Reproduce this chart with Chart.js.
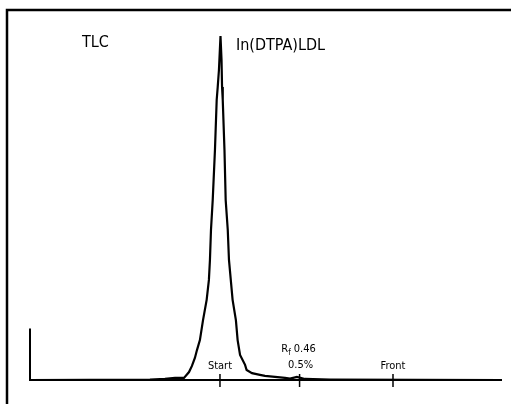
<!DOCTYPE html>
<html><head><meta charset="utf-8">
<script src="https://cdn.jsdelivr.net/npm/chart.js@4/dist/chart.umd.min.js"></script>
<style>html,body{margin:0;padding:0;background:#fff;}canvas{display:block;}</style>
</head><body>
<canvas id="c" width="511" height="404"></canvas>
<script>
// Migration distance (Start = 0, Front = 1) and relative counts (peak = 100)
const rfPos = [-1.098,-0.405,-0.318,-0.26,-0.208,-0.179,-0.162,-0.145,-0.133,-0.116,-0.098,-0.077,-0.064,-0.058,-0.052,-0.042,-0.029,-0.019,-0.013,-0.006,0.003,0.009,0.012,0.016,0.026,0.033,0.045,0.052,0.073,0.092,0.102,0.116,0.145,0.154,0.185,0.231,0.26,0.318,0.376,0.405,0.445,0.491,0.636,1.63];
const counts = [0,0.15,0.3,0.6,0.6,2.3,4.1,6.4,8.7,11.6,17.4,23.3,29.1,34.9,43.6,52.3,66.9,81.4,85.2,90.1,100,93.0,85.2,81.4,66.9,52.3,43.6,34.9,23.3,17.4,11.6,7.3,4.4,2.9,2.0,1.5,1.2,0.9,0.6,0.4,0.9,0.3,0.15,0];
const markerPos = [0, 0.46, 1];
const markerLabels = ['Start', 'Rf 0.46', 'Front'];
const markerSub = ['', '0.5%', ''];
const xRange = [-1.098, 1.63];
const yRange = [0, 100];
const yAxisTop = 15;
const titleLeft = 'TLC';
const titleRight = 'In(DTPA)LDL';

const FONT = '"DejaVu Sans Condensed","Liberation Sans Narrow","DejaVu Sans",sans-serif';

const decor = {
  id: 'decor',
  afterDraw(chart) {
    const ctx = chart.ctx, xs = chart.scales.x, ys = chart.scales.y;
    ctx.save();
    ctx.strokeStyle = '#000'; ctx.fillStyle = '#000';
    // frame
    ctx.lineWidth = 2.5;
    ctx.beginPath(); ctx.moveTo(7, 404); ctx.lineTo(7, 10); ctx.lineTo(511, 10); ctx.stroke();
    // axes
    ctx.lineWidth = 2;
    const y0 = ys.getPixelForValue(0);
    const xl = xs.getPixelForValue(xRange[0]), xr = xs.getPixelForValue(xRange[1]);
    ctx.beginPath();
    ctx.moveTo(xl, ys.getPixelForValue(yAxisTop)); ctx.lineTo(xl, y0); ctx.lineTo(xr, y0);
    ctx.stroke();
    // markers
    ctx.lineWidth = 1.5;
    ctx.textAlign = 'center'; ctx.textBaseline = 'alphabetic';
    markerPos.forEach((p, i) => {
      const px = xs.getPixelForValue(p);
      ctx.beginPath(); ctx.moveTo(px, y0 - 6); ctx.lineTo(px, y0 + 7); ctx.stroke();
      ctx.font = '11px ' + FONT;
      if (markerSub[i]) {
        const parts = markerLabels[i].split(' ');
        const main = parts[0].charAt(0), sub = parts[0].slice(1), rest = ' ' + parts.slice(1).join(' ');
        ctx.font = '11px ' + FONT;
        const wm = ctx.measureText(main).width, wr = ctx.measureText(rest).width;
        ctx.font = '8px ' + FONT;
        const ws = ctx.measureText(sub).width;
        let sx = px - (wm + ws + wr) / 2 - 1;
        ctx.textAlign = 'left';
        ctx.font = '11px ' + FONT; ctx.fillText(main, sx, y0 - 28); sx += wm;
        ctx.font = '8px ' + FONT; ctx.fillText(sub, sx, y0 - 25); sx += ws;
        ctx.font = '11px ' + FONT; ctx.fillText(rest, sx, y0 - 28);
        ctx.textAlign = 'center';
        ctx.fillText(markerSub[i], px + 1, y0 - 12);
      } else {
        ctx.fillText(markerLabels[i], px, y0 - 11);
      }
    });
    // titles
    ctx.textAlign = 'left';
    ctx.font = '16px ' + FONT;
    ctx.fillText(titleLeft, 82, 47);
    ctx.fillText(titleRight, 236, 50);
    ctx.restore();
  }
};

new Chart(document.getElementById('c'), {
  type: 'line',
  data: {
    datasets: [{
      data: rfPos.map((x, i) => ({x, y: counts[i]})),
      borderColor: '#000', borderWidth: 2.2, pointRadius: 0, tension: 0, fill: false, clip: false
    }]
  },
  options: {
    responsive: false, animation: false,
    layout: { padding: { left: 30, right: 9, top: 36, bottom: 24 } },
    plugins: { legend: { display: false }, tooltip: { enabled: false } },
    scales: {
      x: { type: 'linear', min: xRange[0], max: xRange[1], display: false },
      y: { min: yRange[0], max: yRange[1], display: false }
    }
  },
  plugins: [decor]
});
</script>
</body></html>
